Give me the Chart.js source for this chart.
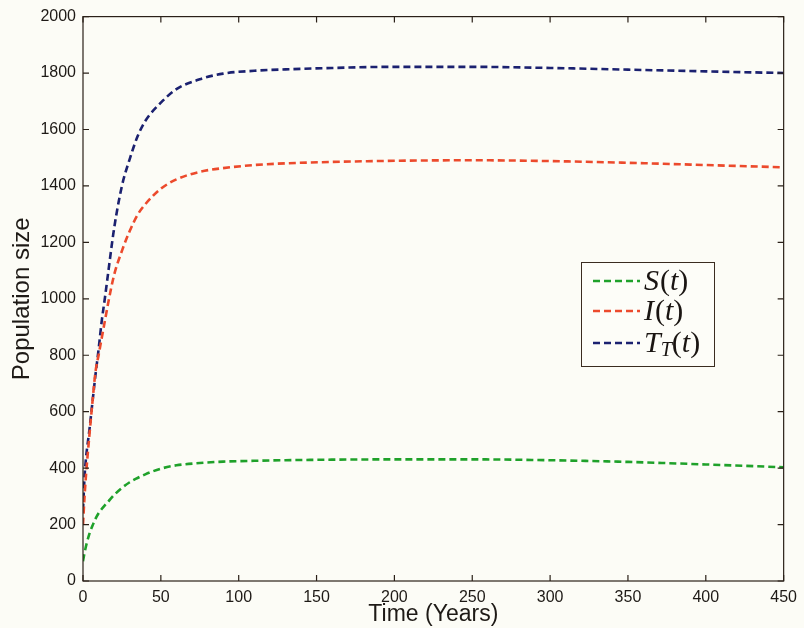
<!DOCTYPE html>
<html>
<head>
<meta charset="utf-8">
<script src="https://cdn.jsdelivr.net/npm/chart.js@4.4.1/dist/chart.umd.min.js"></script>
<style>
  html, body { margin: 0; padding: 0; background: #fcfcf6; }
  #wrap { width: 804px; height: 628px; }
</style>
</head>
<body>
<div id="wrap"><canvas id="pop" width="804" height="628"></canvas></div>
<script>
// time points (years)
var years = [0, 1, 2, 4, 6, 8, 10, 12, 14, 16, 20, 25, 30, 35, 40, 50, 60, 75, 90, 110, 130, 160, 200, 250, 300, 350, 400, 450];

var susceptible = [70, 100, 125, 165, 195, 220, 240, 255, 268, 280, 305, 330, 350, 365, 378, 398, 410, 418, 423, 426, 428, 430, 431, 431, 428, 422, 413, 403];
var infected = [200, 300, 380, 510, 630, 740, 800, 860, 920, 980, 1085, 1170, 1240, 1297, 1335, 1390, 1423, 1450, 1463, 1474, 1480, 1485, 1489, 1491, 1488, 1482, 1474, 1466];
var treated = [250, 370, 440, 530, 630, 730, 820, 920, 1000, 1085, 1250, 1400, 1495, 1575, 1630, 1695, 1743, 1778, 1798, 1808, 1813, 1818, 1822, 1822, 1818, 1812, 1806, 1800];

var xTicks = [0, 50, 100, 150, 200, 250, 300, 350, 400, 450];
var yTicks = [0, 200, 400, 600, 800, 1000, 1200, 1400, 1600, 1800, 2000];

var colS = '#1fa12a', colI = '#ec4a2c', colT = '#1b2170';
var axisCol = '#2a2018';

function pts(vals) {
  return years.map(function(t, i) { return { x: t, y: vals[i] }; });
}

function line(label, vals, col) {
  return {
    label: label,
    data: pts(vals),
    borderColor: col,
    borderWidth: 2.6,
    borderDash: [7, 4],
    pointRadius: 0,
    fill: false,
    cubicInterpolationMode: 'monotone'
  };
}

// box around the axes with inward tick marks on all four sides
var boxTicks = {
  id: 'boxTicks',
  afterDatasetsDraw: function(chart) {
    var c = chart.ctx, a = chart.chartArea;
    var sx = chart.scales.x, sy = chart.scales.y;
    c.save();
    c.strokeStyle = axisCol;
    c.lineWidth = 1.2;
    c.strokeRect(a.left, a.top, a.right - a.left, a.bottom - a.top);
    c.beginPath();
    xTicks.forEach(function(v) {
      var px = sx.getPixelForValue(v);
      c.moveTo(px, a.bottom); c.lineTo(px, a.bottom - 6);
      c.moveTo(px, a.top); c.lineTo(px, a.top + 6);
    });
    yTicks.forEach(function(v) {
      var py = sy.getPixelForValue(v);
      c.moveTo(a.left, py); c.lineTo(a.left + 6, py);
      c.moveTo(a.right, py); c.lineTo(a.right - 6, py);
    });
    c.stroke();
    c.restore();
  }
};

// math-style legend: italic letters, upright brackets
function drawMath(c, parts, x, y) {
  parts.forEach(function(p) {
    var size = p.sub ? 20 : 30;
    c.font = (p.it ? 'italic ' : '') + size + 'px "Liberation Serif", "DejaVu Serif", serif';
    c.fillText(p.t, x, y + (p.sub ? 7 : 0));
    x += c.measureText(p.t).width + (p.gap || 0);
  });
}

var mathLegend = {
  id: 'mathLegend',
  afterDraw: function(chart) {
    var c = chart.ctx;
    var bx = 581, by = 262, bw = 133, bh = 104;
    c.save();
    c.fillStyle = '#fdfdf8';
    c.fillRect(bx, by, bw, bh);
    c.strokeStyle = '#3a2c20';
    c.lineWidth = 1;
    c.strokeRect(bx + 0.5, by + 0.5, bw, bh);
    var rows = [
      { col: colS, y: 281, parts: [{ t: 'S', it: true, gap: 1 }, { t: '(' }, { t: 't', it: true }, { t: ')' }] },
      { col: colI, y: 311, parts: [{ t: 'I', it: true, gap: 1 }, { t: '(' }, { t: 't', it: true }, { t: ')' }] },
      { col: colT, y: 343, parts: [{ t: 'T', it: true }, { t: 'T', it: true, sub: true }, { t: '(' }, { t: 't', it: true }, { t: ')' }] }
    ];
    rows.forEach(function(r) {
      c.strokeStyle = r.col;
      c.lineWidth = 2.6;
      c.setLineDash([7, 4]);
      c.beginPath();
      c.moveTo(593, r.y); c.lineTo(640, r.y);
      c.stroke();
      c.setLineDash([]);
      c.fillStyle = '#1a1512';
      c.textBaseline = 'middle';
      drawMath(c, r.parts, 644, r.y + 1);
    });
    c.restore();
  }
};

var tickFont = { family: '"Liberation Sans", Arial, sans-serif', size: 16 };
function plain(v) { return String(v); }

new Chart(document.getElementById('pop'), {
  type: 'line',
  data: {
    datasets: [
      line('S(t)', susceptible, colS),
      line('I(t)', infected, colI),
      line('T_T(t)', treated, colT)
    ]
  },
  options: {
    responsive: false,
    animation: false,
    layout: { padding: { left: 0, right: 14, top: 16, bottom: 0 } },
    plugins: {
      legend: { display: false },
      tooltip: { enabled: false }
    },
    scales: {
      x: {
        type: 'linear',
        min: 0,
        max: 450,
        afterBuildTicks: function(s) { s.ticks = xTicks.map(function(v) { return { value: v }; }); },
        afterFit: function(s) { s.height = 47; },
        grid: { display: false, drawTicks: false },
        border: { display: false },
        ticks: { font: tickFont, color: '#1e1a16', padding: 7, maxRotation: 0, callback: plain },
        title: {
          display: true,
          text: 'Time (Years)',
          color: '#1e1a16',
          font: { family: '"Liberation Sans", Arial, sans-serif', size: 23 },
          padding: { top: 0, bottom: 0 }
        }
      },
      y: {
        type: 'linear',
        min: 0,
        max: 2000,
        afterBuildTicks: function(s) { s.ticks = yTicks.map(function(v) { return { value: v }; }); },
        afterFit: function(s) { s.width = 83; },
        grid: { display: false, drawTicks: false },
        border: { display: false },
        ticks: { font: tickFont, color: '#1e1a16', padding: 7, callback: plain },
        title: {
          display: true,
          text: 'Population size',
          color: '#1e1a16',
          font: { family: '"Liberation Sans", Arial, sans-serif', size: 24 },
          padding: { top: 8, bottom: 0 }
        }
      }
    }
  },
  plugins: [boxTicks, mathLegend]
});
</script>
</body>
</html>
